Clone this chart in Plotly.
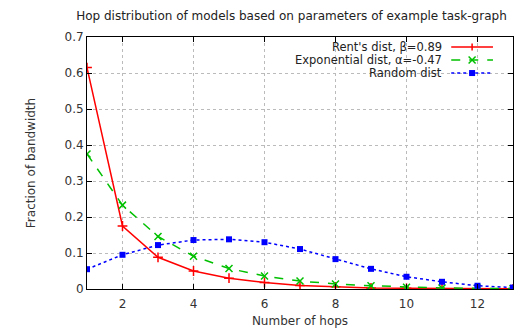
import plotly.graph_objects as go

hops = [1, 2, 3, 4, 5, 6, 7, 8, 9, 10, 11, 12, 13]
rent = [0.615, 0.175, 0.088, 0.050, 0.030, 0.018, 0.010, 0.006, 0.003, 0.002, 0.001, 0.0005, 0.0003]
expo = [0.375, 0.233, 0.146, 0.091, 0.057, 0.036, 0.022, 0.014, 0.009, 0.005, 0.003, 0.002, 0.001]
rand = [0.055, 0.095, 0.122, 0.136, 0.138, 0.130, 0.111, 0.083, 0.056, 0.034, 0.020, 0.009, 0.004]

names = ["Rent's dist, \u03b2=0.89", "Exponential dist, \u03b1=-0.47", "Random dist"]
colors = ["#ff0000", "#00c000", "#0000ff"]
dashes = ["solid", "dash", "dot"]

FONT = "DejaVu Sans, Verdana, sans-serif"

fig = go.Figure()
fig.add_trace(go.Scatter(x=hops, y=rent, name=names[0], mode="lines+markers",
                         line=dict(color=colors[0], width=1.5),
                         marker=dict(symbol="cross-thin", size=7, line=dict(color=colors[0], width=1.5))))
fig.add_trace(go.Scatter(x=hops, y=expo, name=names[1], mode="lines+markers",
                         line=dict(color=colors[1], width=1.5, dash="dash"),
                         marker=dict(symbol="x-thin", size=7, line=dict(color=colors[1], width=1.5))))
fig.add_trace(go.Scatter(x=hops, y=rand, name=names[2], mode="lines+markers",
                         line=dict(color=colors[2], width=1.5, dash="dot"),
                         marker=dict(symbol="square", size=6, color=colors[2])))

# gnuplot-style key: right-aligned text with the line sample to its right
W, H = 426.0, 252.0  # plot area size in px
row_y = [0.960, 0.909, 0.857]
tx = 0.836
lx0, lx1, mx = 0.855, 0.953, 0.904
shapes = []
annos = []
for i in range(3):
    y = row_y[i]
    annos.append(dict(text=names[i], x=tx, y=y, xref="paper", yref="paper",
                      xanchor="right", yanchor="middle", showarrow=False, borderpad=0,
                      font=dict(size=11.5, color="#222")))
    shapes.append(dict(type="line", xref="paper", yref="paper", x0=lx0, x1=lx1, y0=y, y1=y,
                       line=dict(color=colors[i], width=1.5, dash=dashes[i])))
    dx, dy = 3.5 / W, 3.5 / H
    if i == 0:
        shapes.append(dict(type="line", xref="paper", yref="paper", x0=mx, x1=mx, y0=y - dy, y1=y + dy,
                           line=dict(color=colors[i], width=1.5)))
    elif i == 1:
        shapes.append(dict(type="line", xref="paper", yref="paper", x0=mx - dx, x1=mx + dx, y0=y - dy, y1=y + dy,
                           line=dict(color=colors[i], width=1.5)))
        shapes.append(dict(type="line", xref="paper", yref="paper", x0=mx - dx, x1=mx + dx, y0=y + dy, y1=y - dy,
                           line=dict(color=colors[i], width=1.5)))
    else:
        sx, sy = 3.0 / W, 3.0 / H
        shapes.append(dict(type="rect", xref="paper", yref="paper", x0=mx - sx, x1=mx + sx, y0=y - sy, y1=y + sy,
                           fillcolor=colors[i], line=dict(color=colors[i], width=0)))

fig.update_layout(
    width=523, height=321,
    margin=dict(l=79, r=18, t=29, b=40, autoexpand=False),
    paper_bgcolor="white", plot_bgcolor="white",
    font=dict(family=FONT, size=12, color="#333"),
    title=dict(text="Hop distribution of models based on parameters of example task-graph",
               x=0.542, xanchor="center", y=0.995, yanchor="top", pad=dict(t=2),
               font=dict(size=12, color="#222")),
    showlegend=False,
    shapes=shapes,
    annotations=annos,
)
fig.update_xaxes(range=[1, 13], tickvals=[2, 4, 6, 8, 10, 12], showgrid=True,
                 gridcolor="#bbbbbb", griddash="dot", gridwidth=1,
                 showline=True, linecolor="black", linewidth=1, mirror="ticks",
                 ticks="inside", ticklen=5, tickcolor="black", zeroline=False,
                 ticklabelstandoff=4, automargin=False,
                 title=dict(text="Number of hops", standoff=6, font=dict(size=12)))
fig.update_yaxes(range=[0, 0.7], tickvals=[0, 0.1, 0.2, 0.3, 0.4, 0.5, 0.6, 0.7],
                 ticktext=["0", "0.1", "0.2", "0.3", "0.4", "0.5", "0.6", "0.7"],
                 showgrid=True, gridcolor="#bbbbbb", griddash="dot", gridwidth=1,
                 showline=True, linecolor="black", linewidth=1, mirror="ticks",
                 ticks="inside", ticklen=5, tickcolor="black", zeroline=False,
                 automargin=False,
                 title=dict(text="Fraction of bandwidth", standoff=26, font=dict(size=12)))

fig.write_html("out.html")
